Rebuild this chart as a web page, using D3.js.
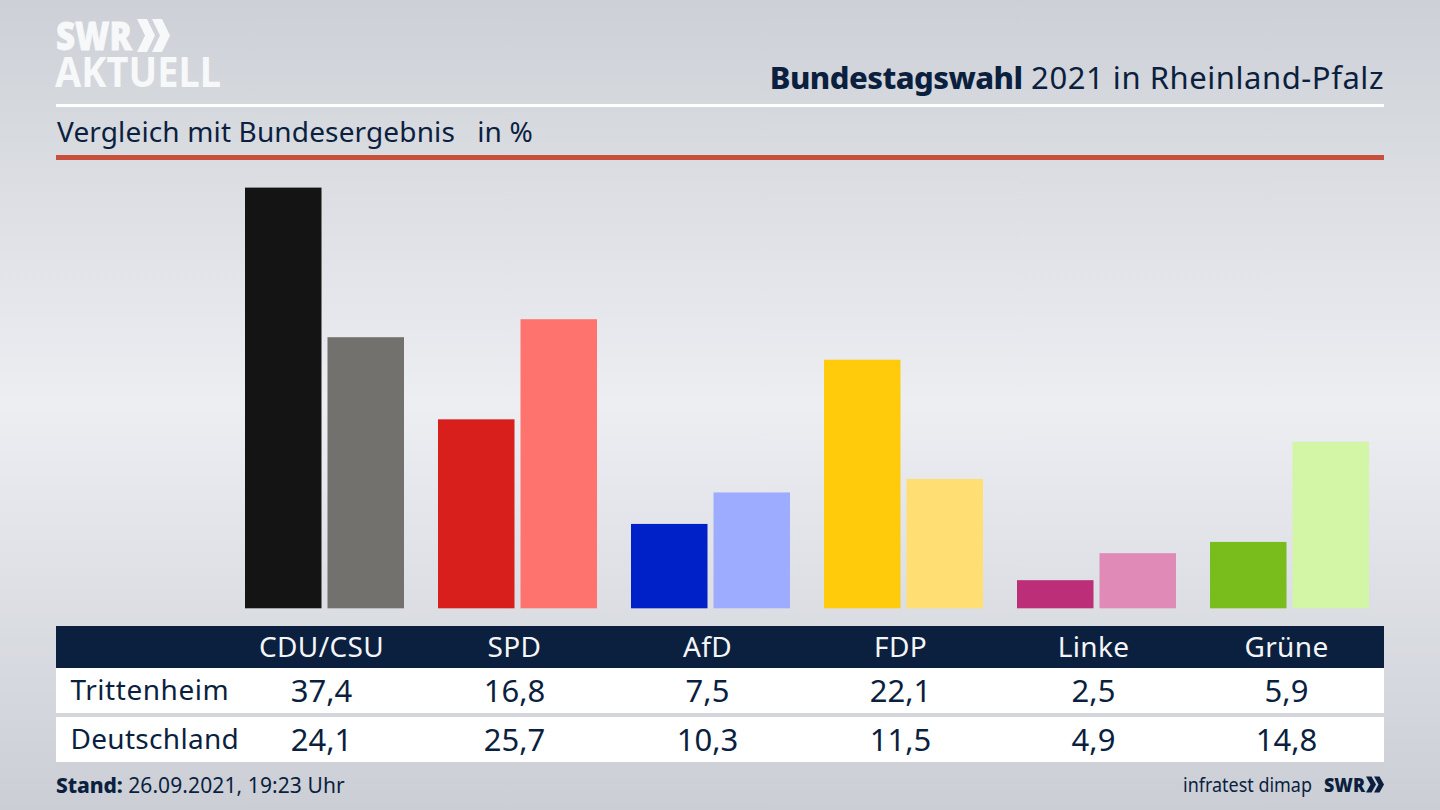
<!DOCTYPE html>
<html><head><meta charset="utf-8">
<script src="https://cdn.jsdelivr.net/npm/d3@7"></script>
<style>html,body{margin:0;padding:0;background:#d0d3d9;overflow:hidden}svg{display:block}text{font-family:"Noto Sans",sans-serif}</style>
</head><body><svg id="c" width="1440" height="810"></svg>
<script>
const parties = ["CDU/CSU","SPD","AfD","FDP","Linke","Grüne"];
const regions = ["Trittenheim","Deutschland"];
const trittenheim = [37.4,16.8,7.5,22.1,2.5,5.9];
const deutschland = [24.1,25.7,10.3,11.5,4.9,14.8];
const colorsLocal = ["#141414","#d81f1c","#0020c8","#ffcb0a","#bc2f78","#78bd1c"];
const colorsNational = ["#72716e","#ff736e","#9eacff","#ffdf73","#e08ab8","#d2f6a6"];
const navy = "#0b1f3f";

const svg = d3.select("#c");
const defs = svg.append("defs");
const g = defs.append("linearGradient").attr("id","bg").attr("x1",0).attr("x2",0).attr("y1",0).attr("y2",1);
[[0,"#cdd0d6"],[0.5,"#eceef2"],[1,"#cbced5"]].forEach(s=>g.append("stop").attr("offset",s[0]).attr("stop-color",s[1]));
svg.append("rect").attr("width",1440).attr("height",810).attr("fill","url(#bg)");

// Logo
const chev = (x,y,w,th,h,fill)=>{
  svg.append("path").attr("fill",fill).attr("d",
    `M${x},${y}h${th}L${x+w},${y+h/2}L${x+th},${y+h}h${-th}L${x+w-th},${y+h/2}z`);
};
svg.append("text").attr("x",56).attr("y",50).attr("font-size",39).attr("font-weight",900).attr("fill","#f7f8f9").attr("stroke","#f7f8f9").attr("stroke-width",0.8).attr("textLength",76).attr("lengthAdjust","spacingAndGlyphs").text("SWR");
chev(137,19,18,10,33,"#f7f8f9"); chev(152,19,18,10,33,"#f7f8f9");
svg.append("text").attr("x",55).attr("y",87).attr("font-size",41).attr("font-weight",700).attr("fill","#f7f8f9").attr("textLength",166).attr("lengthAdjust","spacingAndGlyphs").text("AKTUELL");

// Header
const t = svg.append("text").attr("x",1384).attr("y",89).attr("text-anchor","end").attr("font-size",31).attr("fill",navy);
t.append("tspan").attr("font-weight",800).attr("letter-spacing",-0.55).text("Bundestagswahl");
t.append("tspan").attr("letter-spacing",0.55).text(" 2021 in Rheinland-Pfalz");
svg.append("rect").attr("x",56).attr("y",104).attr("width",1328).attr("height",3).attr("fill","#fff");
svg.append("text").attr("x",57).attr("y",142).attr("font-size",28).attr("letter-spacing",0.14).attr("fill",navy).attr("xml:space","preserve").text("Vergleich mit Bundesergebnis   in %");
svg.append("rect").attr("x",56).attr("y",155).attr("width",1328).attr("height",5).attr("fill","#c94f3d");

// Bars
const x = d3.scaleBand().domain(parties).range([228,1386]);
const y = d3.scaleLinear().domain([0,37.4]).range([608.3,187.6]);
const series = [
  {v:trittenheim,c:colorsLocal,dx:-79.5},
  {v:deutschland,c:colorsNational,dx:3}
];
series.forEach(s=>{
  svg.append("g").selectAll("rect").data(parties).join("rect")
    .attr("x",(d)=>x(d)+x.bandwidth()/2+s.dx)
    .attr("width",76.5)
    .attr("y",(d,i)=>y(s.v[i]))
    .attr("height",(d,i)=>y(0)-y(s.v[i]))
    .attr("fill",(d,i)=>s.c[i]);
});

// Table
svg.append("rect").attr("x",56).attr("y",626).attr("width",1328).attr("height",42).attr("fill",navy);
svg.append("rect").attr("x",56).attr("y",668).attr("width",1328).attr("height",45).attr("fill","#fff");
svg.append("rect").attr("x",56).attr("y",717).attr("width",1328).attr("height",45).attr("fill","#fff");
const col = d3.scaleBand().domain(parties).range([225,1383]);
const cx = d=>col(d)+col.bandwidth()/2;
svg.append("g").selectAll("text").data(parties).join("text")
  .attr("x",cx).attr("y",657).attr("text-anchor","middle").attr("font-size",28).attr("letter-spacing",0.35).attr("fill","#f4f5f7").text(d=>d);
const fmt = v=>v.toFixed(1).replace(".",",");
[[trittenheim,702,700],[deutschland,751,749]].forEach(([vals,yy,ly],r)=>{
  svg.append("text").attr("x",70.5).attr("y",ly).attr("font-size",28).attr("letter-spacing",r?0.3:0.55).attr("fill",navy).text(regions[r]);
  svg.append("g").selectAll("text").data(parties).join("text")
    .attr("x",cx).attr("y",yy).attr("text-anchor","middle").attr("font-size",31).attr("fill",navy)
    .text((d,i)=>fmt(vals[i]));
});

// Footer
const f = svg.append("text").attr("x",56).attr("y",793).attr("font-size",21).attr("fill",navy);
f.append("tspan").attr("font-weight",800).attr("letter-spacing",-0.1).text("Stand:");
f.append("tspan").attr("letter-spacing",0.1).text(" 26.09.2021, 19:23 Uhr");
svg.append("text").attr("x",1183).attr("y",792).attr("font-size",20).attr("fill",navy).attr("textLength",129).attr("lengthAdjust","spacingAndGlyphs").text("infratest dimap");
svg.append("text").attr("x",1324).attr("y",792).attr("font-size",20).attr("font-weight",900).attr("fill",navy).attr("textLength",41).attr("lengthAdjust","spacingAndGlyphs").text("SWR");
chev(1366,776.5,10,5.5,16,navy); chev(1374,776.5,10,5.5,16,navy);
</script></body></html>
